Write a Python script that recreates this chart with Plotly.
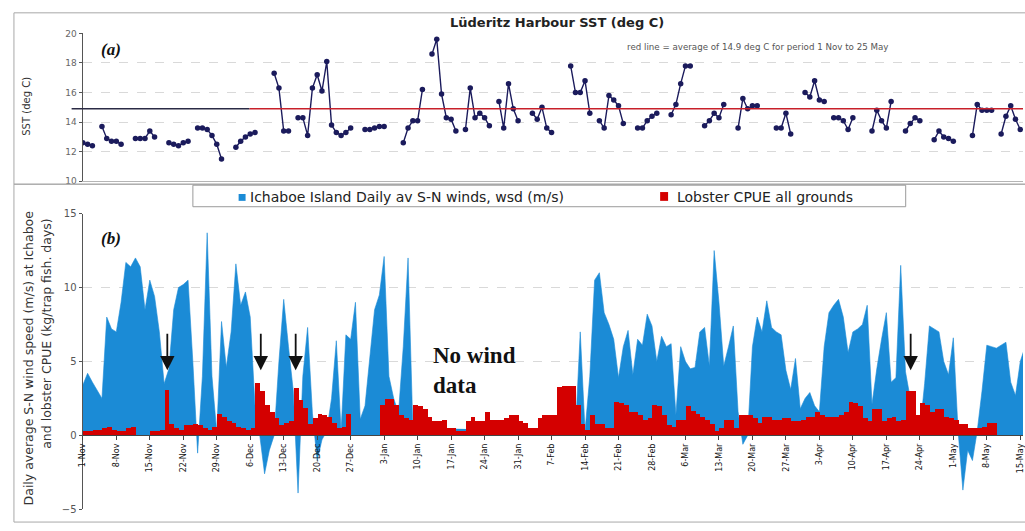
import pandas as pd
import plotly.graph_objects as go

# ---------------- data ----------------
START = "2003-11-01"

SST = [12.6, 12.5, 12.4, None, 13.7, 12.9, 12.7, 12.7, 12.5, None,
       None, 12.9, 12.9, 12.9, 13.4, 13.0, None, None, 12.6, 12.5,
       12.4, 12.6, 12.7, None, 13.6, 13.6, 13.5, 13.1, 12.5, 11.5,
       None, None, 12.3, 12.7, 13.0, 13.2, 13.3, None, None, None,
       17.3, 16.3, 13.4, 13.4, None, 14.3, 14.3, 13.1, 16.3, 17.2,
       16.1, 18.1, 13.8, 13.3, 13.1, 13.3, 13.6, None, None, 13.5,
       13.5, 13.6, 13.7, 13.7, None, None, None, 12.6, 13.6, 14.1,
       14.1, 16.2, None, 18.6, 19.6, 15.9, 14.3, 14.2, 13.4, None,
       13.5, 16.3, 14.3, 14.6, 14.3, 13.75, None, 15.4, 13.6, 16.6,
       14.9, 14.1, None, None, 14.6, 14.2, 15.0, 13.6, 13.3, None,
       None, None, 17.8, 16.0, 16.0, 16.8, 14.6, None, 14.1, 13.6,
       15.8, 15.5, 15.1, 13.9, None, None, 13.6, 13.6, 14.1, 14.4,
       14.6, None, None, 14.5, 15.2, 16.6, 17.8, 17.8, None, None,
       13.75, 14.1, 14.6, 14.3, 15.2, None, None, 13.6, 15.6, 14.9,
       15.1, 15.1, None, None, None, 13.6, 13.6, 14.6, 13.2, None,
       None, 16.0, 15.7, 16.8, 15.5, 15.4, None, 14.3, 14.3, 14.1,
       13.5, 14.3, None, None, None, 13.4, 14.8, 14.1, 13.6, 15.4,
       None, None, 13.4, 13.9, 14.3, 14.1, None, None, 12.8, 13.4,
       13.0, 12.9, 12.7, None, None, None, 13.1, 15.2, 14.8, 14.8,
       14.8, None, 13.2, 14.4, 15.1, 14.2, 13.5]

SST_MEAN = 14.9

WIND_SEG1_START = "2003-11-01"
WIND_SEG1 = [3.4, 4.2, 3.6, 3.0, 2.5, 8.0, 7.2, 7.0, 9.0, 11.7,
             11.4, 12.0, 11.4, 8.5, 10.5, 9.4, 7.0, 3.5, 4.5, 8.5,
             10.0, 10.2, 10.5, 5.0, -1.2, 4.0, 13.7, 4.0, 0.2, 7.7,
             4.6, 7.0, 11.6, 8.8, 9.7, 8.0, 2.0, 0.0, -2.6, -1.0,
             0.0, 5.0, 9.2, 6.0, 3.0, -3.9, 4.0, 7.3, 1.5, -1.7,
             -0.3, 0.3, 2.5, 6.4, 0.3, 6.8, 6.5, 9.0, 1.1, 2.0,
             5.5, 8.5, 9.5, 12.1, 4.0, 2.5, 1.5, 6.0, 12.0, 0.5]

WIND_SEG2_START = "2004-02-12"
WIND_SEG2 = [0.3, 7.0, 0.3, 4.0, 10.5, 11.0, 8.3, 7.5, 6.5, 3.9,
             6.0, 7.1, 4.1, 6.5, 6.1, 8.2, 7.4, 5.0, 6.7, 6.0,
             6.2, 1.4, 6.0, 5.0, 4.5, 4.6, 7.0, 7.3, 4.7, 12.5,
             9.0, 4.7, 6.0, 7.4, 1.6, -0.6, 0.0, 6.0, 8.0, 7.0,
             9.1, 7.3, 7.0, 6.8, 4.4, 3.1, 5.2, 1.8, 2.5, 2.9,
             2.0, 1.6, 6.0, 8.3, 8.8, 9.2, 8.0, 5.6, 7.0, 7.2,
             7.5, 8.8, 2.1, 4.5, 6.5, 8.3, 3.6, 3.9, 11.5, 4.3,
             2.5, 1.0, 0.3, 3.5, 7.4, 7.2, 7.0, 5.0, 4.1, 6.6,
             0.3, -3.7, -1.0, -1.7, 0.3, 3.0, 6.1, 6.0, 5.9, 6.1,
             6.3, 3.6, 2.7, 5.0, 6.0]

CPUE = [0.3, 0.3, 0.4, 0.4, 0.5, 0.6, 0.4, 0.3, 0.3, 0.5,
        0.6, 0.0, 0.0, 0.0, 0.3, 0.3, 0.4, 3.1, 0.8, 0.5,
        0.4, 0.7, 0.7, 0.8, 0.7, 0.5, 0.4, 0.6, 1.5, 1.3,
        1.0, 0.9, 0.6, 0.5, 0.4, 0.5, 3.6, 3.0, 2.1, 1.6,
        1.2, 0.7, 0.9, 1.0, 3.2, 2.4, 1.9, 0.8, 1.2, 1.5,
        1.4, 1.3, 0.9, 0.5, 0.6, 1.5, 0.0, 0.0, 0.0, 0.0,
        0.0, 0.0, 2.1, 2.5, 2.5, 2.1, 1.4, 1.2, 1.1, 2.1,
        2.0, 1.8, 1.3, 1.0, 1.0, 1.1, 0.5, 0.5, 0.3, 0.3,
        1.0, 1.3, 1.0, 1.0, 1.6, 1.1, 1.1, 1.1, 1.2, 1.4,
        1.4, 1.0, 0.9, 0.5, 0.5, 1.2, 1.4, 1.4, 1.4, 3.3,
        3.4, 3.4, 3.4, 2.1, 0.8, 0.4, 1.4, 0.8, 0.8, 0.5,
        0.5, 2.3, 2.2, 2.1, 1.6, 1.6, 1.4, 1.1, 1.2, 2.1,
        2.0, 1.4, 0.7, 0.6, 1.1, 1.1, 2.0, 1.7, 1.5, 1.3,
        1.1, 0.8, 0.3, 0.5, 1.1, 1.1, 0.5, 1.4, 1.4, 1.4,
        1.2, 0.9, 1.3, 1.3, 1.1, 1.1, 1.2, 1.2, 1.0, 1.0,
        1.1, 1.3, 1.3, 1.6, 1.4, 1.3, 1.3, 1.3, 1.4, 1.6,
        2.3, 2.2, 2.0, 1.2, 1.0, 1.8, 1.8, 1.0, 1.2, 1.3,
        1.0, 1.1, 3.0, 3.0, 1.4, 2.2, 2.1, 1.6, 1.8, 1.8,
        1.3, 1.2, 1.1, 0.8, 0.8, 0.5, 0.5, 0.5, 0.6, 0.9,
        0.9]

ARROW_DATES = ["2003-11-18 16:00", "2003-12-08 05:00",
               "2003-12-15 12:00", "2004-04-22 02:00"]
ARROW_TIP_VALUE = 4.4

TICK_START = "2003-11-01"
TICK_END = "2004-05-15"

TITLE = "Lüderitz Harbour SST (deg C)"
NOTE = "red line = average of 14.9 deg C for period 1 Nov to 25 May"
WIND_NAME = "Ichaboe Island Daily av S-N winds, wsd (m/s)"
CPUE_NAME = "Lobster CPUE all grounds"

# ---------------- build ----------------
W, H = 1025, 531


def px(p):
    return p / W


def py(p):
    return 1 - p / H


start = pd.Timestamp(START)
sst_x = pd.date_range(START, periods=len(SST), freq="D")
w1_x = list(pd.date_range(WIND_SEG1_START, periods=len(WIND_SEG1), freq="D"))
w2_x = list(pd.date_range(WIND_SEG2_START, periods=len(WIND_SEG2), freq="D"))
wind_x = w1_x + [None] + w2_x
wind_y = WIND_SEG1 + [None] + WIND_SEG2
cpue_x = pd.date_range(START, periods=len(CPUE), freq="D")

tick_dates = pd.date_range(TICK_START, TICK_END, freq="7D")
tick_text = [f"{d.day}-{d:%b}" for d in tick_dates]

x_range = [start + pd.Timedelta(days=-0.06), start + pd.Timedelta(days=196.57)]
x_dom = [px(79), 1.0]
y1_dom = [py(180), py(29)]
y2_dom = [py(515), py(213)]
y2_range = [-5, 15]
zero_pos = y2_dom[0] + (0 - y2_range[0]) / (y2_range[1] - y2_range[0]) * (y2_dom[1] - y2_dom[0])

BLUE = "#1b8bd6"
RED = "#d40000"
NAVY = "#1b1b5c"
FONT = "DejaVu Sans"

fig = go.Figure()

fig.add_trace(go.Scatter(
    x=sst_x, y=SST, mode="lines+markers", name="Lüderitz Harbour SST",
    line=dict(color=NAVY, width=1.4), marker=dict(color=NAVY, size=5.5),
    connectgaps=False, xaxis="x", yaxis="y", showlegend=False))

fig.add_trace(go.Scatter(
    x=wind_x, y=wind_y, mode="lines", name=WIND_NAME, fill="tozeroy",
    fillcolor=BLUE, line=dict(color=BLUE, width=0.6), connectgaps=False,
    xaxis="x2", yaxis="y2", showlegend=False))

fig.add_trace(go.Bar(
    x=cpue_x, y=CPUE, name=CPUE_NAME, marker=dict(color=RED, line=dict(width=0)),
    width=86400000, offset=0, xaxis="x2", yaxis="y3", showlegend=False))

grid = dict(showgrid=True, gridcolor="#d9d9d9", griddash="dash", gridwidth=1)

fig.update_layout(
    width=W, height=H, margin=dict(l=0, r=0, t=0, b=0),
    paper_bgcolor="white", plot_bgcolor="white", bargap=0, showlegend=False,
    xaxis=dict(domain=x_dom, range=x_range, type="date", anchor="y",
               showticklabels=False, showgrid=False, zeroline=False,
               showline=True, linecolor="#b5b5b5", ticks=""),
    yaxis=dict(domain=y1_dom, range=[10, 20], dtick=2, anchor="x",
               tickfont=dict(family=FONT, size=9, color="#666"),
               showline=True, linecolor="#555", ticks="outside", ticklen=3,
               tickcolor="#555", zeroline=False, **grid),
    xaxis2=dict(domain=x_dom, range=x_range, type="date", anchor="free",
                position=zero_pos, tickmode="array", tickvals=tick_dates,
                ticktext=tick_text, tickangle=-90, ticklabeloverflow="allow",
                tickfont=dict(family=FONT, size=8, color="#111"),
                ticks="outside", ticklen=4, tickcolor="#444",
                showline=True, linecolor="#444", showgrid=False, zeroline=False),
    yaxis2=dict(domain=y2_dom, range=y2_range, dtick=5, anchor="x2",
                tickfont=dict(family=FONT, size=10, color="#555"),
                showline=True, linecolor="#555", ticks="outside", ticklen=3,
                tickcolor="#555", zeroline=False, **grid),
    yaxis3=dict(range=y2_range, overlaying="y2", anchor="x2", visible=False),
)

shapes = [
    # panel frames
    dict(type="rect", xref="paper", yref="paper", x0=px(10), x1=1.02,
         y0=py(183), y1=py(8), line=dict(color="#a8a8a8", width=1)),
    dict(type="rect", xref="paper", yref="paper", x0=px(10), x1=1.02,
         y0=py(528), y1=py(183), line=dict(color="#a8a8a8", width=1)),
    # mean SST line
    dict(type="line", xref="paper", yref="y", x0=px(68), x1=px(247),
         y0=SST_MEAN, y1=SST_MEAN, line=dict(color="#2b2b45", width=1.5)),
    dict(type="line", xref="paper", yref="y", x0=px(247), x1=1.0,
         y0=SST_MEAN, y1=SST_MEAN, line=dict(color="#c8202a", width=1.5)),
    # legend box
    dict(type="rect", xref="paper", yref="paper", x0=px(190), x1=px(907),
         y0=py(206), y1=py(184), fillcolor="white",
         line=dict(color="#9a9a9a", width=1)),
    dict(type="rect", xref="paper", yref="paper", x0=px(236), x1=px(243),
         y0=py(200), y1=py(193), fillcolor=BLUE, line=dict(width=0)),
    dict(type="rect", xref="paper", yref="paper", x0=px(660), x1=px(668),
         y0=py(200), y1=py(191), fillcolor=RED, line=dict(width=0)),
]
fig.update_layout(shapes=shapes)

ann = [
    dict(text="<b>" + TITLE + "</b>", x=px(556), y=py(18),
         font=dict(family=FONT, size=13, color="#222")),
    dict(text=NOTE, x=px(625), y=py(43), xanchor="left",
         font=dict(family=FONT, size=8.7, color="#555")),
    dict(text="<b><i>(a)</i></b>", x=px(96), y=py(45), xanchor="left",
         font=dict(family="Liberation Serif", size=17, color="#111")),
    dict(text="<b><i>(b)</i></b>", x=px(96), y=py(238), xanchor="left",
         font=dict(family="Liberation Serif", size=17, color="#111")),
    dict(text="SST (deg C)", x=px(23), y=py(103), textangle=-90,
         font=dict(family=FONT, size=10, color="#333")),
    dict(text="Daily average S-N wind speed (m/s) at Ichaboe", x=px(25), y=py(360),
         textangle=-90, font=dict(family=FONT, size=12.5, color="#333")),
    dict(text="and lobster CPUE (kg/trap fish. days)", x=px(42), y=py(335),
         textangle=-90, font=dict(family=FONT, size=12.5, color="#333")),
    dict(text=WIND_NAME, x=px(245), y=py(196), xanchor="left",
         font=dict(family=FONT, size=14, color="#222")),
    dict(text=CPUE_NAME, x=px(675), y=py(196), xanchor="left",
         font=dict(family=FONT, size=14, color="#222")),
    dict(text="<b>No wind<br>data</b>", x=px(430), y=py(343), xanchor="left",
         yanchor="top", align="left",
         font=dict(family="Liberation Serif", size=23, color="#111")),
]
for a in ann:
    a.setdefault("xref", "paper")
    a.setdefault("yref", "paper")
    a.setdefault("showarrow", False)
    a.setdefault("xanchor", "center")
    a.setdefault("yanchor", "middle")

for d in ARROW_DATES:
    ann.append(dict(x=pd.Timestamp(d), y=ARROW_TIP_VALUE, xref="x2", yref="y2",
                    showarrow=True, ax=0, ay=-38, arrowhead=2, arrowsize=1.6,
                    arrowwidth=1.8, arrowcolor="#111", text=""))

fig.update_layout(annotations=ann)

fig.write_html("out.html", config={"displayModeBar": False})
